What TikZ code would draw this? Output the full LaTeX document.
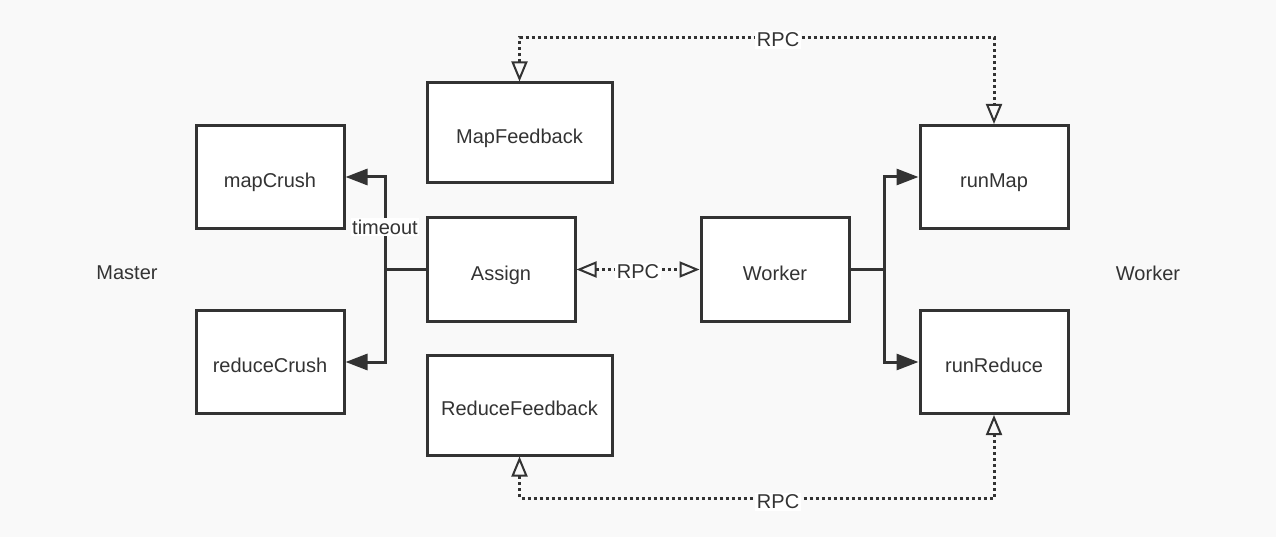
\documentclass[tikz,border=0pt]{standalone}
\usepackage{fontspec}
\setmainfont{Liberation Sans}
\usetikzlibrary{arrows.meta}
\definecolor{linec}{HTML}{333333}
\definecolor{bgc}{HTML}{F9F9F9}
\begin{document}
\begin{tikzpicture}[x=1pt,y=-1pt,
  box/.style={draw=linec, fill=white, line width=3pt, minimum width=148pt, minimum height=103pt,
    font=\fontsize{20}{23}\selectfont, text=linec, inner sep=0pt, text height=21pt, text depth=0pt},
  widebox/.style={box, minimum width=185pt, minimum height=100pt},
  plain/.style={font=\fontsize{20}{23}\selectfont, text=linec},
  lbl/.style={font=\fontsize{20}{23}\selectfont, text=linec, fill=white, inner sep=1.5pt},
  conn/.style={draw=linec, line width=3pt},
  filltip/.style={conn, -{Triangle[length=22pt,width=16pt]}},
  rpc/.style={draw=linec, line width=3pt, dash pattern=on 3pt off 3pt,
    {Triangle[open,length=20pt,width=16pt,line width=2pt]}-{Triangle[open,length=20pt,width=16pt,line width=2pt]}}
]
\fill[bgc] (0,0) rectangle (1276,537);
\useasboundingbox (0,0) rectangle (1276,537);

\node[box] (mapCrush) at (270,177) {mapCrush};
\node[box] (reduceCrush) at (270,362) {reduceCrush};
\node[widebox] (MapFeedback) at (519.5,133) {MapFeedback};
\node[box] (Assign) at (501,269.5) {Assign};
\node[widebox] (ReduceFeedback) at (519.5,405) {ReduceFeedback};
\node[box] (Worker) at (775,269.5) {Worker};
\node[box] (runMap) at (994,177) {runMap};
\node[box] (runReduce) at (994,362) {runReduce};
\node[plain] (master) at (127,273) {Master};
\node[plain] (workerlbl) at (1148,273) {Worker};

% Assign -> crush boxes
\coordinate (jl) at (385,269.5);
\draw[conn] (Assign.west) -- (jl);
\draw[filltip] (jl) |- (mapCrush.east);
\draw[filltip] (jl) |- (reduceCrush.east);
\node[lbl] (timeout) at (385,227) {timeout};

% Worker -> run boxes
\coordinate (jr) at (884,269.5);
\draw[conn] (Worker.east) -- (jr);
\draw[filltip] (jr) |- (runMap.west);
\draw[filltip] (jr) |- (runReduce.west);

% RPC Assign <-> Worker
\draw[rpc] (Assign.east) -- node[lbl, yshift=-2pt] (rpcm) {RPC} (Worker.west);

% top RPC
\coordinate (t2) at (519.5,38);
\coordinate (t1) at (994,38);
\draw[rpc] (MapFeedback.north) -- (t2) -- node[lbl, pos=0.545, yshift=-2pt] (rpct) {RPC} (t1) -- (runMap.north);

% bottom RPC
\coordinate (b2) at (519.5,498);
\coordinate (b1) at (994,498);
\draw[rpc] (ReduceFeedback.south) -- (b2) -- node[lbl, pos=0.545, yshift=-4pt] (rpcb) {RPC} (b1) -- (runReduce.south);
\end{tikzpicture}
\end{document}
